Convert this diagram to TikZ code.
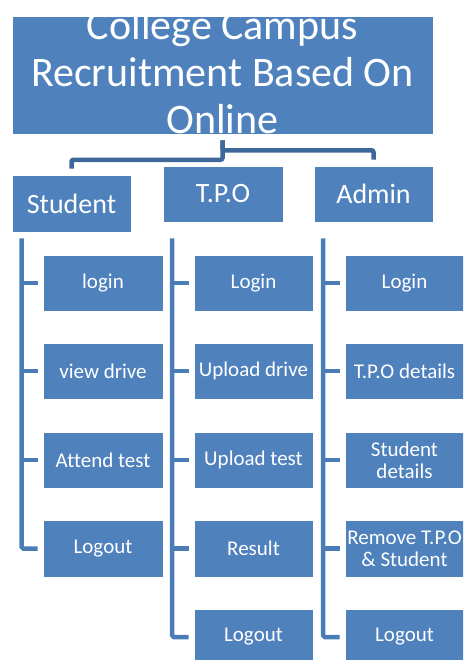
\documentclass[tikz,border=0pt]{standalone}
\usepackage{fontspec}
\setmainfont{Carlito}[Ligatures={NoCommon}]
\definecolor{boxblue}{RGB}{79,129,189}
\definecolor{topline}{RGB}{62,104,154}
\definecolor{colline}{RGB}{74,124,184}
\tikzset{
  box/.style={rectangle, fill=boxblue, draw=white, line width=0.6pt, inner sep=0pt, text=white, align=center},
  titlebox/.style={box, minimum width=421pt, minimum height=118pt},
  titletext/.style={text=white, align=center, inner sep=0pt, font=\fontsize{42}{47}\selectfont},
  headbox/.style={box, minimum width=119pt, minimum height=56pt, font=\fontsize{28}{30}\selectfont},
  childbox/.style={box, minimum width=119pt, minimum height=56pt, font=\fontsize{21}{22}\selectfont},
  topconn/.style={draw=topline, line width=4.5pt, rounded corners=2pt},
  colconn/.style={draw=colline, line width=4.5pt, rounded corners=1.5pt}
}
\begin{document}
\begin{tikzpicture}[x=1pt,y=-1pt]
\useasboundingbox (0,0) rectangle (463,660);
\clip (0,0) rectangle (463,660);
% title
\node[titlebox] (top) at (222.5,75) {};
\node[titletext] (title) at (222.5,72.5) {College Campus\\Recruitment Based On\\Online};
% headers
\node[headbox, minimum height=57pt] (student) at (71.5,203.5) {Student};
\node[headbox, minimum width=120pt] (tpo) at (223,194) {T.P.O};
\node[headbox] (admin) at (373.5,194) {Admin};
% top connectors
\coordinate (tb) at ([yshift=-6pt]top.south);
\draw[topconn] (tb) -- ([yshift=-25.5pt]top.south) -| ([yshift=6pt]student.north);
\draw[topconn] (tb) -- ([yshift=-16pt]top.south) -| ([yshift=6pt]admin.north);
% student column
\node[childbox, minimum width=120pt] (s1) at (103,283) {login};
\node[childbox, minimum width=120pt] (s2) at (103,371) {view drive};
\node[childbox, minimum width=120pt] (s3) at (103,460) {Attend test};
\node[childbox, minimum width=120pt, minimum height=57pt] (s4) at (103,548.5) {Logout};
% tpo column
\node[childbox] (t1) at (253.5,283) {Login};
\node[childbox] (t2) at (253.5,371) {Upload drive};
\node[childbox] (t3) at (253.5,460) {Upload test};
\node[childbox, minimum height=57pt] (t4) at (253.5,548.5) {Result};
\node[childbox] (t5) at (253.5,637) {Logout};
% admin column
\node[childbox] (a1) at (404.5,283) {Login};
\node[childbox] (a2) at (404.5,371) {T.P.O details};
\node[childbox] (a3) at (404.5,460) {Student\\details};
\node[childbox, minimum height=57pt] (a4) at (404.5,548.5) {Remove T.P.O\\\& Student};
\node[childbox] (a5) at (404.5,637) {Logout};
% column connectors
\coordinate (sv) at ([xshift=10pt,yshift=-6pt]student.south west);
\draw[colconn] (sv) |- ([xshift=-5pt]s4.west);
\foreach \n in {s1,s2,s3}
  \draw[colconn] (sv |- \n.west) -- ([xshift=-5pt]\n.west);
\coordinate (tv) at ([xshift=9.5pt,yshift=-16pt]tpo.south west);
\draw[colconn] (tv) |- ([xshift=-5pt]t5.west);
\foreach \n in {t1,t2,t3,t4}
  \draw[colconn] (tv |- \n.west) -- ([xshift=-5pt]\n.west);
\coordinate (av) at ([xshift=9.5pt,yshift=-16pt]admin.south west);
\draw[colconn] (av) |- ([xshift=-5pt]a5.west);
\foreach \n in {a1,a2,a3,a4}
  \draw[colconn] (av |- \n.west) -- ([xshift=-5pt]\n.west);
\end{tikzpicture}
\end{document}
